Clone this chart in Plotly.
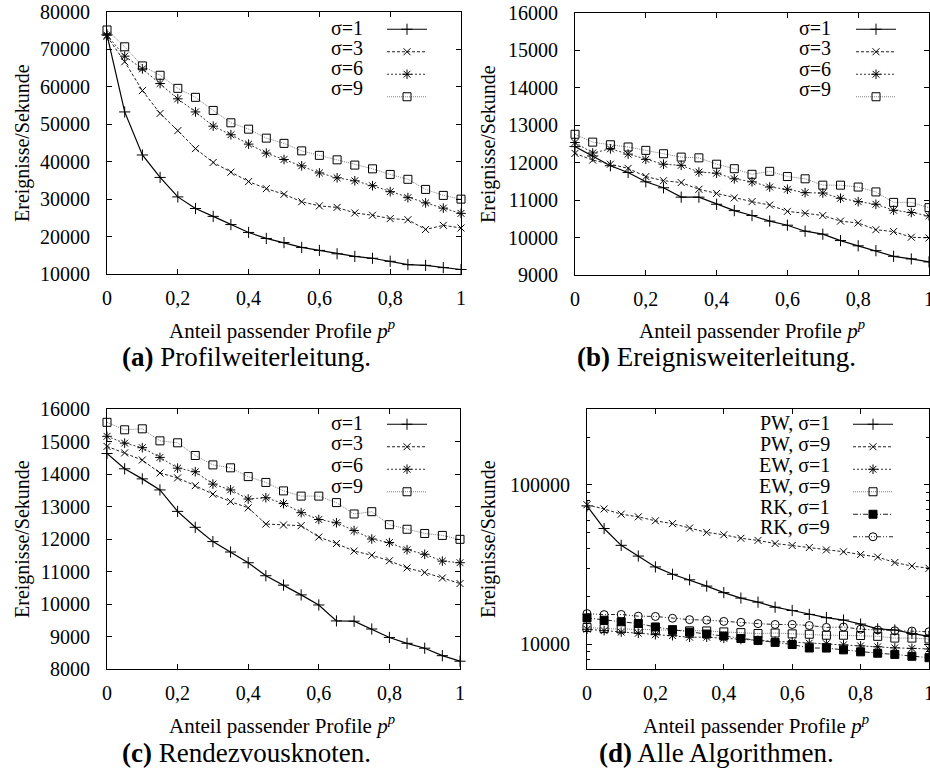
import plotly.graph_objects as go

# ---------------- data ----------------
X = [0, 0.05, 0.1, 0.15, 0.2, 0.25, 0.3, 0.35, 0.4, 0.45, 0.5,
     0.55, 0.6, 0.65, 0.7, 0.75, 0.8, 0.85, 0.9, 0.95, 1.0]

# (a) Profilweiterleitung
PW_s1 = [73900, 53300, 41800, 35800, 30600, 27500, 25400, 23200, 21100, 19500, 18400,
         17100, 16300, 15400, 14700, 14200, 13400, 12500, 12300, 11700, 11200]
PW_s3 = [73500, 66700, 59000, 52900, 48300, 43500, 39800, 37200, 34700, 32800, 31300,
         29300, 28200, 27800, 26300, 25700, 24800, 24500, 21900, 23000, 22300]
PW_s6 = [73800, 68200, 64800, 60900, 56800, 53300, 49500, 47200, 44700, 42300, 40600,
         38900, 37000, 35700, 34900, 33600, 32000, 30400, 29000, 27600, 26200]
PW_s9 = [75200, 70700, 65600, 63100, 59600, 57200, 53700, 50400, 48700, 46300, 44900,
         42900, 41700, 40500, 39100, 38100, 36600, 35300, 32600, 31000, 30000]

# (b) Ereignisweiterleitung
EW_s1 = [12430, 12180, 11920, 11740, 11490, 11330, 11080, 11080, 10890, 10720, 10590,
         10440, 10330, 10170, 10090, 9920, 9780, 9650, 9500, 9430, 9350]
EW_s3 = [12250, 12070, 11960, 11850, 11630, 11520, 11470, 11290, 11180, 11060, 10960,
         10870, 10700, 10650, 10590, 10440, 10390, 10210, 10160, 10010, 9990]
EW_s6 = [12540, 12260, 12370, 12230, 12090, 11960, 11930, 11750, 11720, 11570, 11490,
         11350, 11290, 11200, 11190, 11050, 10960, 10890, 10730, 10670, 10580]
EW_s9 = [12760, 12550, 12480, 12420, 12330, 12240, 12150, 12130, 11960, 11840, 11690,
         11770, 11630, 11570, 11400, 11400, 11350, 11220, 10940, 10940, 10800]

# (c) Rendezvousknoten
RK_s1 = [14630, 14160, 13850, 13510, 12850, 12360, 11920, 11600, 11270, 10870, 10580,
         10280, 9970, 9480, 9470, 9230, 8970, 8790, 8640, 8410, 8240]
RK_s3 = [14850, 14650, 14430, 14030, 13880, 13640, 13380, 13150, 12960, 12460, 12430,
         12410, 12060, 11860, 11630, 11500, 11330, 11110, 10970, 10800, 10630]
RK_s6 = [15160, 14950, 14810, 14510, 14180, 14070, 13690, 13510, 13230, 13270, 13090,
         12810, 12600, 12500, 12260, 12000, 11890, 11670, 11530, 11320, 11270]
RK_s9 = [15590, 15360, 15390, 15020, 14960, 14570, 14280, 14190, 13920, 13740, 13480,
         13320, 13320, 13120, 12770, 12840, 12440, 12300, 12170, 12110, 11990]

SIGMA_NAMES = ["σ=1", "σ=3", "σ=6", "σ=9"]
ALL_NAMES = ["PW, σ=1", "PW, σ=9", "EW, σ=1", "EW, σ=9", "RK, σ=1", "RK, σ=9"]

X_TICKS = [0, 0.2, 0.4, 0.6, 0.8, 1]
X_TICKTEXT = ["0", "0,2", "0,4", "0,6", "0,8", "1"]
A_YTICKS = [10000, 20000, 30000, 40000, 50000, 60000, 70000, 80000]
B_YTICKS = [9000, 10000, 11000, 12000, 13000, 14000, 15000, 16000]
C_YTICKS = [8000, 9000, 10000, 11000, 12000, 13000, 14000, 15000, 16000]
D_YTICKS = [10000, 100000]
D_MINOR = [8000, 9000, 20000, 30000, 40000, 50000, 60000, 70000, 80000, 90000,
           200000, 300000]

XTITLE = "Anteil passender Profile <i>p</i><sup><i>p</i></sup>"
YTITLE = "Ereignisse/Sekunde"
CAPTIONS = ["<b>(a)</b> Profilweiterleitung.", "<b>(b)</b> Ereignisweiterleitung.",
            "<b>(c)</b> Rendezvousknoten.", "<b>(d)</b> Alle Algorithmen."]

# ---------------- styling ----------------
W, H = 930, 777
FONT = "Liberation Serif"
TICKFONT = dict(family=FONT, size=20, color="black")

STY = {
    "plus":  dict(symbol="cross-thin", size=8, color="black", line=dict(width=1, color="black")),
    "x":     dict(symbol="x-thin", size=7, color="black", line=dict(width=1, color="black")),
    "ast":   dict(symbol="asterisk", size=8, color="black", line=dict(width=1, color="black")),
    "sq":    dict(symbol="square-open", size=8, color="black", line=dict(width=1, color="black")),
    "sqf":   dict(symbol="square", size=8, color="black", line=dict(width=1, color="black")),
    "circ":  dict(symbol="circle-open", size=8, color="black", line=dict(width=1, color="black")),
}
LINES = {
    "solid": dict(color="black", width=1.2),
    "dash": dict(color="#222", width=1, dash="3px,2px"),
    "dot": dict(color="#333", width=1, dash="2px,2px"),
    "fine": dict(color="#808080", width=1, dash="1px,1px"),
    "dashdot": dict(color="#222", width=1, dash="5px,2px,1px,2px"),
    "dashdotdot": dict(color="#222", width=1, dash="4px,2px,1px,2px,1px,2px"),
}


def px_x(v):
    return v / W


def px_y(v):
    return 1 - v / H


fig = go.Figure()

panels = [
    # axis suffix, x-domain px, y-domain px, legend name
    ("", (107, 461), (12, 274), "legend"),
    ("2", (575, 929), (13, 275), "legend2"),
    ("3", (107, 460), (409, 669), "legend3"),
    ("4", (587, 929), (409, 669), "legend4"),
]

series_sets = [
    [(PW_s1, "solid", "plus"), (PW_s3, "dash", "x"), (PW_s6, "dot", "ast"), (PW_s9, "fine", "sq")],
    [(EW_s1, "solid", "plus"), (EW_s3, "dash", "x"), (EW_s6, "dot", "ast"), (EW_s9, "fine", "sq")],
    [(RK_s1, "solid", "plus"), (RK_s3, "dash", "x"), (RK_s6, "dot", "ast"), (RK_s9, "fine", "sq")],
    [(PW_s1, "solid", "plus"), (PW_s9, "dash", "x"), (EW_s1, "dot", "ast"), (EW_s9, "fine", "sq"),
     (RK_s1, "dashdot", "sqf"), (RK_s9, "dashdotdot", "circ")],
]

for pi, (suf, (x0, x1), (y0, y1), lg) in enumerate(panels):
    for (vals, ls, mk) in series_sets[pi]:
        # legend label is drawn gnuplot-style (text left of the sample) as annotations
        fig.add_trace(go.Scatter(
            x=X, y=vals, name="", mode="lines+markers", showlegend=True,
            line=LINES[ls], marker=STY[mk], cliponaxis=False,
            xaxis="x" + suf, yaxis="y" + suf, legend=lg,
        ))

axis_common = dict(showline=True, linecolor="black", linewidth=1, mirror="ticks",
                   ticks="inside", ticklen=5, tickcolor="black", tickwidth=1,
                   showgrid=False, zeroline=False, tickfont=TICKFONT, automargin=False,
                   ticklabeloverflow="allow")

layout = dict(width=W, height=H, margin=dict(l=0, r=0, t=0, b=0, autoexpand=False),
              template="none",
              paper_bgcolor="white", plot_bgcolor="white", showlegend=True)

yticks_list = [A_YTICKS, B_YTICKS, C_YTICKS, D_YTICKS]
yranges = [[10000, 80000], [9000, 16000], [8000, 16000], [3.845, 5.477]]

for pi, (suf, (x0, x1), (y0, y1), lg) in enumerate(panels):
    xa = dict(axis_common, domain=[px_x(x0), px_x(x1)], range=[0, 1],
              tickmode="array", tickvals=X_TICKS, ticktext=X_TICKTEXT,
              anchor="y" + suf, ticklabelstandoff=6)
    ya = dict(axis_common, domain=[px_y(y1), px_y(y0)], range=yranges[pi],
              tickmode="array", tickvals=yticks_list[pi],
              ticktext=[str(v) for v in yticks_list[pi]],
              anchor="x" + suf, ticklabelstandoff=12)
    if pi == 3:
        ya["type"] = "log"
        ya["minor"] = dict(tickmode="array", tickvals=D_MINOR, ticks="inside",
                           ticklen=3, tickcolor="black", showgrid=False)
    layout["xaxis" + suf] = xa
    layout["yaxis" + suf] = ya

# legend sample boxes (label annotations are placed to their left)
legend_pos = [(382, 13), (851, 13), (382, 408), (848, 408)]
for (suf, _, _, lg), (lx, ly) in zip(panels, legend_pos):
    layout[lg] = dict(x=px_x(lx), y=px_y(ly), xanchor="left", yanchor="top",
                      bgcolor="rgba(0,0,0,0)", borderwidth=0,
                      font=dict(family=FONT, size=15, color="black"),
                      tracegroupgap=0, itemwidth=40)

fig.update_layout(**layout)

TXT = dict(family=FONT, size=20, color="black")
# legend labels
legend_text_x = [365, 833, 365, 832]
legend_rows = [[28, 48, 68, 88], [28, 48, 69, 89], [423, 443, 465, 486],
               [423, 444, 465, 486, 507, 527]]
for pi in range(4):
    names = ALL_NAMES if pi == 3 else SIGMA_NAMES
    for nm, ry in zip(names, legend_rows[pi]):
        fig.add_annotation(x=px_x(legend_text_x[pi]), y=px_y(ry), xref="paper", yref="paper",
                           text=nm, showarrow=False, xanchor="right", yanchor="middle", font=TXT)

# axis titles and captions
ytitle_x = [22, 489, 22, 488]
xtitle_pos = [(282, 329), (752, 329), (282, 724), (756, 724)]
cap_pos = [(246, 357), (716, 357), (246, 753), (716, 753)]
for pi, (suf, (x0, x1), (y0, y1), lg) in enumerate(panels):
    fig.add_annotation(x=px_x(ytitle_x[pi]), y=px_y((y0 + y1) / 2), xref="paper", yref="paper",
                       text=YTITLE, textangle=-90, showarrow=False,
                       xanchor="center", yanchor="middle", font=TXT)
    fig.add_annotation(x=px_x(xtitle_pos[pi][0]), y=px_y(xtitle_pos[pi][1]), xref="paper", yref="paper",
                       text=XTITLE, showarrow=False, xanchor="center", yanchor="middle",
                       font=dict(family=FONT, size=21, color="black"))
    fig.add_annotation(x=px_x(cap_pos[pi][0]), y=px_y(cap_pos[pi][1]), xref="paper", yref="paper",
                       text=CAPTIONS[pi], showarrow=False, xanchor="center", yanchor="middle",
                       font=dict(family=FONT, size=27, color="black"))

fig.write_html("out.html", config={"displayModeBar": False},
               post_script="document.body.style.margin='0';")
